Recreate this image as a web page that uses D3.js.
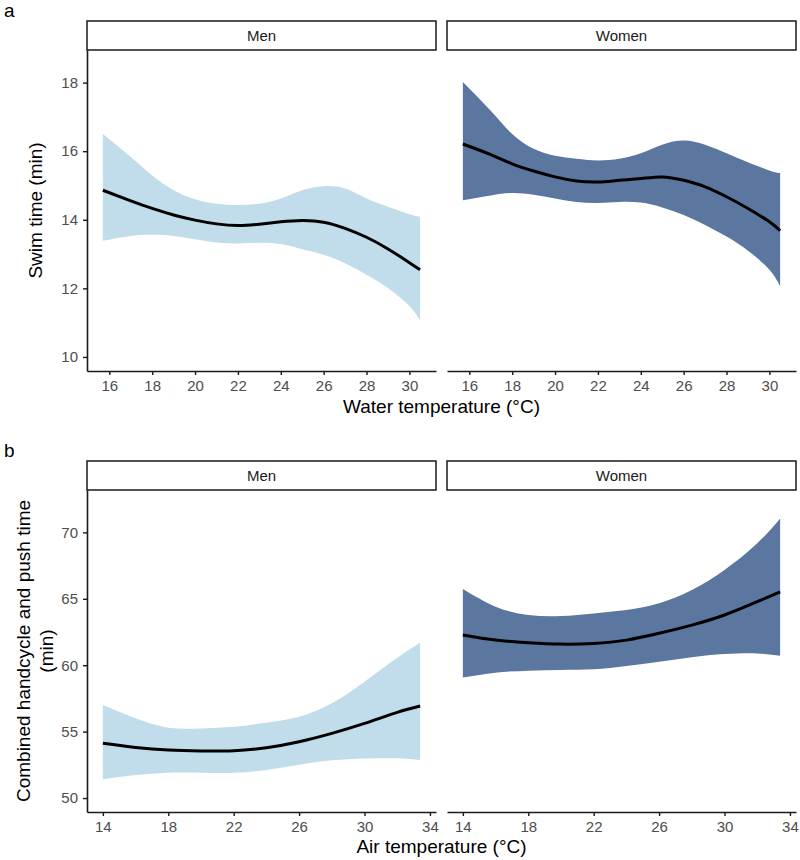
<!DOCTYPE html>
<html>
<head>
<meta charset="utf-8">
<script src="https://cdn.jsdelivr.net/npm/d3@7"></script>
<style>
  body { margin: 0; background: #fff; }
  svg { display: block; font-family: "Liberation Sans", Arial, Helvetica, sans-serif; }
</style>
</head>
<body>
<div id="chart"></div>
<script>
// ---------- DATA ----------
const facets = ["Men", "Women"];

// Panel a: swim time vs water temperature
const waterTemp = [15.7, 17, 18, 19, 20, 21, 22, 23, 24, 25, 26, 27, 28, 29, 30, 30.5];
const swimMenFit   = [14.86, 14.55, 14.33, 14.14, 13.99, 13.88, 13.83, 13.87, 13.94, 13.98, 13.93, 13.75, 13.49, 13.15, 12.75, 12.54];
const swimMenUpper = [16.50, 15.83, 15.29, 14.86, 14.60, 14.47, 14.43, 14.47, 14.62, 14.86, 14.98, 14.91, 14.62, 14.38, 14.16, 14.09];
const swimMenLower = [13.39, 13.53, 13.56, 13.53, 13.43, 13.34, 13.31, 13.33, 13.29, 13.14, 12.98, 12.73, 12.40, 12.01, 11.48, 11.07];
const swimWomenFit   = [16.21, 15.90, 15.63, 15.42, 15.25, 15.13, 15.10, 15.15, 15.20, 15.25, 15.15, 14.96, 14.67, 14.33, 13.94, 13.68];
const swimWomenUpper = [18.02, 17.18, 16.50, 16.07, 15.87, 15.78, 15.73, 15.78, 15.94, 16.19, 16.31, 16.19, 15.94, 15.68, 15.44, 15.36];
const swimWomenLower = [14.57, 14.71, 14.78, 14.73, 14.62, 14.52, 14.49, 14.52, 14.50, 14.36, 14.14, 13.85, 13.51, 13.10, 12.54, 12.06];

// Panel b: combined handcycle and push time vs air temperature
const airTemp = [14, 16, 18, 20, 22, 24, 26, 28, 30, 32, 33.4];
const bikeMenFit   = [54.12, 53.81, 53.61, 53.54, 53.56, 53.79, 54.24, 54.87, 55.62, 56.45, 56.93];
const bikeMenUpper = [57.00, 56.00, 55.29, 55.24, 55.37, 55.67, 56.12, 57.13, 58.76, 60.56, 61.69];
const bikeMenLower = [51.41, 51.73, 51.91, 51.91, 51.91, 52.11, 52.50, 52.84, 52.98, 52.99, 52.86];
const bikeWomenFit   = [62.27, 61.89, 61.69, 61.59, 61.64, 61.89, 62.40, 63.02, 63.78, 64.78, 65.53];
const bikeWomenUpper = [65.73, 64.40, 63.78, 63.70, 63.90, 64.15, 64.66, 65.66, 67.17, 69.18, 71.05];
const bikeWomenLower = [59.08, 59.44, 59.59, 59.64, 59.69, 59.94, 60.26, 60.60, 60.84, 60.89, 60.71];

// Axis ticks and limits
const waterTicks = [16, 18, 20, 22, 24, 26, 28, 30];
const swimTicks = [10, 12, 14, 16, 18];
const airTicks = [14, 18, 22, 26, 30, 34];
const bikeTicks = [50, 55, 60, 65, 70];
const waterDomain = [14.96, 31.24];
const swimDomain = [9.59, 18.95];
const airDomain = [13.03, 34.37];
const bikeDomain = [48.95, 73.19];

const fillColors = { Men: "#c1dcea", Women: "#5b769f" };

// ---------- LAYOUT ----------
const W = 800, H = 860;
const svg = d3.select("#chart").append("svg").attr("width", W).attr("height", H);

const colX = [[87, 436], [447, 796]];
const rows = [
  {
    tag: "a", tagY: 17, stripTop: 21, top: 50, bottom: 371,
    x: waterTemp, xDomain: waterDomain, xTicks: waterTicks,
    yDomain: swimDomain, yTicks: swimTicks,
    series: {
      Men:   { fit: swimMenFit, lo: swimMenLower, hi: swimMenUpper },
      Women: { fit: swimWomenFit, lo: swimWomenLower, hi: swimWomenUpper }
    },
    xTitle: "Water temperature (°C)", xTitleY: 413,
    yTitle: ["Swim time (min)"]
  },
  {
    tag: "b", tagY: 457, stripTop: 461, top: 490, bottom: 812,
    x: airTemp, xDomain: airDomain, xTicks: airTicks,
    yDomain: bikeDomain, yTicks: bikeTicks,
    series: {
      Men:   { fit: bikeMenFit, lo: bikeMenLower, hi: bikeMenUpper },
      Women: { fit: bikeWomenFit, lo: bikeWomenLower, hi: bikeWomenUpper }
    },
    xTitle: "Air temperature (°C)", xTitleY: 853,
    yTitle: ["Combined handcycle and push time", "(min)"]
  }
];

const curve = d3.curveNatural;

rows.forEach(row => {
  // panel tag
  svg.append("text").attr("x", 4).attr("y", row.tagY)
    .attr("font-size", 19).attr("fill", "#000").text(row.tag);

  const y = d3.scaleLinear().domain(row.yDomain).range([row.bottom, row.top]);

  facets.forEach((f, i) => {
    const [x0, x1] = colX[i];
    const x = d3.scaleLinear().domain(row.xDomain).range([x0, x1]);
    const s = row.series[f];
    const pts = row.x.map((v, k) => ({ x: v, fit: s.fit[k], lo: s.lo[k], hi: s.hi[k] }));

    const g = svg.append("g");

    // ribbon
    g.append("path").datum(pts)
      .attr("fill", fillColors[f])
      .attr("d", d3.area().curve(curve)
        .x(d => x(d.x)).y0(d => y(d.lo)).y1(d => y(d.hi)));

    // fitted line
    g.append("path").datum(pts)
      .attr("fill", "none").attr("stroke", "#000").attr("stroke-width", 3)
      .attr("stroke-linecap", "butt")
      .attr("d", d3.line().curve(curve).x(d => x(d.x)).y(d => y(d.fit)));

    // strip
    g.append("rect")
      .attr("x", x0).attr("y", row.stripTop)
      .attr("width", x1 - x0).attr("height", row.top - row.stripTop)
      .attr("fill", "#fff").attr("stroke", "#1a1a1a").attr("stroke-width", 1.5);
    g.append("text")
      .attr("x", (x0 + x1) / 2).attr("y", (row.stripTop + row.top) / 2)
      .attr("dy", "0.36em").attr("text-anchor", "middle")
      .attr("font-size", 15).attr("fill", "#1a1a1a").text(f);

    // x axis
    const xa = g.append("g").attr("transform", `translate(0,${row.bottom})`)
      .call(d3.axisBottom(x).tickValues(row.xTicks).tickSize(4).tickPadding(5)
        .tickFormat(d3.format("d")).tickSizeOuter(0));
    styleAxis(xa);

    // y axis (left facet only)
    if (i === 0) {
      const ya = g.append("g").attr("transform", `translate(${x0},0)`)
        .call(d3.axisLeft(y).tickValues(row.yTicks).tickSize(4).tickPadding(5)
          .tickFormat(d3.format("d")).tickSizeOuter(0));
      styleAxis(ya);
    }
  });

  // x title
  svg.append("text")
    .attr("x", (colX[0][0] + colX[1][1]) / 2).attr("y", row.xTitleY)
    .attr("text-anchor", "middle").attr("font-size", 19).attr("fill", "#000")
    .text(row.xTitle);

  // y title
  const cy = (row.top + row.bottom) / 2;
  const n = row.yTitle.length;
  row.yTitle.forEach((t, k) => {
    const cx = n === 1 ? 35 : (k === 0 ? 23 : 46);
    svg.append("text")
      .attr("transform", `translate(${cx},${cy}) rotate(-90)`)
      .attr("dy", "0.36em").attr("text-anchor", "middle")
      .attr("font-size", 19).attr("fill", "#000").text(t);
  });
});

function styleAxis(sel) {
  sel.select(".domain").attr("stroke", "#1a1a1a").attr("stroke-width", 1.6);
  sel.selectAll(".tick line").attr("stroke", "#1a1a1a").attr("stroke-width", 1.4);
  sel.selectAll(".tick text").attr("font-size", 15).attr("fill", "#4d4d4d")
    .attr("font-family", "Liberation Sans, Arial, sans-serif");
}
</script>
</body>
</html>
